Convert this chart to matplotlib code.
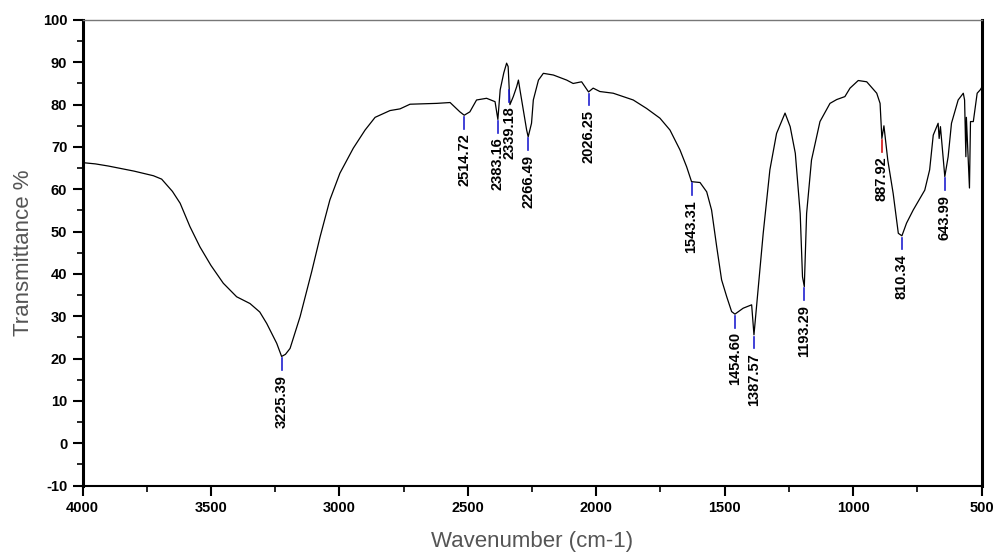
import numpy as np
import matplotlib.pyplot as plt
from matplotlib.ticker import MultipleLocator

plt.rcParams['font.family'] = ['Liberation Sans', 'DejaVu Sans']
plt.rcParams['axes.unicode_minus'] = False

# spectrum (wavenumber cm-1, transmittance %)
wavenumber = [4000, 3950, 3900, 3850, 3800, 3724, 3692, 3650, 3620, 3582,
              3543, 3500, 3452, 3400, 3348, 3310, 3283, 3244, 3225, 3210,
              3192, 3153, 3108, 3075, 3037, 2998, 2946, 2900, 2861, 2803,
              2764, 2725, 2621, 2569, 2531, 2514, 2492, 2466, 2427, 2394,
              2383, 2374, 2360, 2349, 2343, 2336, 2323, 2310, 2303, 2297,
              2284, 2271, 2265, 2252, 2245, 2225, 2206, 2167, 2115, 2090,
              2057, 2037, 2030, 2012, 1986, 1934, 1856, 1804, 1752, 1713,
              1674, 1648, 1629, 1610, 1596, 1570, 1551, 1531, 1512, 1492,
              1473, 1460, 1428, 1395, 1386, 1376, 1350, 1324, 1298, 1265,
              1245, 1225, 1206, 1197, 1190, 1181, 1162, 1129, 1090, 1064,
              1032, 1012, 980, 947, 908, 895, 888, 880, 865, 844,
              824, 810, 792, 766, 721, 702, 688, 669, 665, 660,
              643, 630, 617, 591, 571, 566, 561, 559, 547, 543,
              532, 517, 505, 500]
transmittance = [66.3, 66.0, 65.5, 64.9, 64.3, 63.2, 62.4, 59.5, 56.7, 51.2,
                 46.4, 42.0, 37.8, 34.6, 33.0, 31.0, 28.3, 23.6, 20.5, 21.0,
                 22.4, 29.9, 40.5, 48.8, 57.5, 63.8, 69.7, 74.0, 77.0, 78.6,
                 79.0, 80.1, 80.3, 80.5, 78.3, 77.5, 78.3, 81.1, 81.5, 80.7,
                 76.5, 83.5, 87.5, 89.8, 89.0, 80.0, 81.9, 84.2, 85.8, 83.5,
                 78.7, 74.0, 72.4, 75.6, 81.1, 85.8, 87.4, 87.0, 85.8, 85.0,
                 85.4, 83.6, 83.0, 83.9, 83.1, 82.7, 81.1, 79.1, 76.8, 74.0,
                 69.3, 65.3, 61.8, 61.7, 61.6, 59.4, 55.1, 46.4, 38.6, 34.6,
                 31.1, 30.5, 31.9, 32.7, 25.6, 32.3, 49.6, 64.6, 73.2, 78.0,
                 74.8, 68.5, 54.3, 39.3, 37.0, 54.3, 66.9, 76.0, 80.3, 81.2,
                 81.9, 83.9, 85.7, 85.4, 82.7, 80.3, 72.0, 75.0, 66.9, 59.0,
                 49.6, 49.0, 52.0, 55.1, 59.8, 64.6, 72.8, 75.6, 72.0, 74.8,
                 63.0, 67.7, 75.6, 81.1, 82.7, 81.1, 67.7, 77.0, 60.3, 76.0,
                 76.0, 82.7, 83.5, 84.0]

# peak labels and where they are marked
peak_labels = ['3225.39', '2514.72', '2383.16', '2339.18', '2266.49', '2026.25',
               '1543.31', '1454.60', '1387.57', '1193.29', '887.92', '810.34',
               '643.99']
peak_pos = [3225, 2514, 2383, 2339, 2265, 2030, 1629, 1460, 1386, 1190,
            888, 810, 643]
peak_colors = ['#2020d0'] * 10 + ['#d01010', '#2020d0', '#2020d0']

fig = plt.figure(figsize=(9.98, 5.54), dpi=100)
ax = fig.add_axes([0.0827, 0.1236, 0.9008, 0.8403])

ax.plot(wavenumber, transmittance, color='black', linewidth=0.9)

wn_up = np.array(wavenumber[::-1])
tr_up = np.array(transmittance[::-1])
for lab, pos, col in zip(peak_labels, peak_pos, peak_colors):
    t = np.interp(pos, wn_up, tr_up)
    ax.plot([pos, pos], [t - 0.4, t - 3.2], color=col, linewidth=1.2)
    ax.text(pos, t - 4.3, lab, rotation=90, ha='center', va='top',
            fontsize=10.5, fontweight='bold')

ax.set_xlim(4000, 500)
ax.set_ylim(-10, 100)
ax.xaxis.set_major_locator(MultipleLocator(500))
ax.xaxis.set_minor_locator(MultipleLocator(250))
ax.yaxis.set_major_locator(MultipleLocator(10))
ax.yaxis.set_minor_locator(MultipleLocator(5))
ax.tick_params(which='major', direction='out', length=7, width=1.5,
               labelsize=10.5, pad=4)
ax.tick_params(which='minor', direction='out', length=4, width=1.2)
for t in ax.get_xticklabels() + ax.get_yticklabels():
    t.set_fontweight('bold')

ax.spines['left'].set_linewidth(2.2)
ax.spines['right'].set_linewidth(2.2)
ax.spines['bottom'].set_linewidth(1.5)
ax.spines['top'].set_linewidth(1.0)
ax.spines['top'].set_color('#777777')

ax.set_xlabel('Wavenumber (cm-1)', fontsize=16, color='#555555', labelpad=12)
ax.set_ylabel('Transmittance %', fontsize=16, color='#555555', labelpad=6)

plt.savefig('out.png', dpi=100)
